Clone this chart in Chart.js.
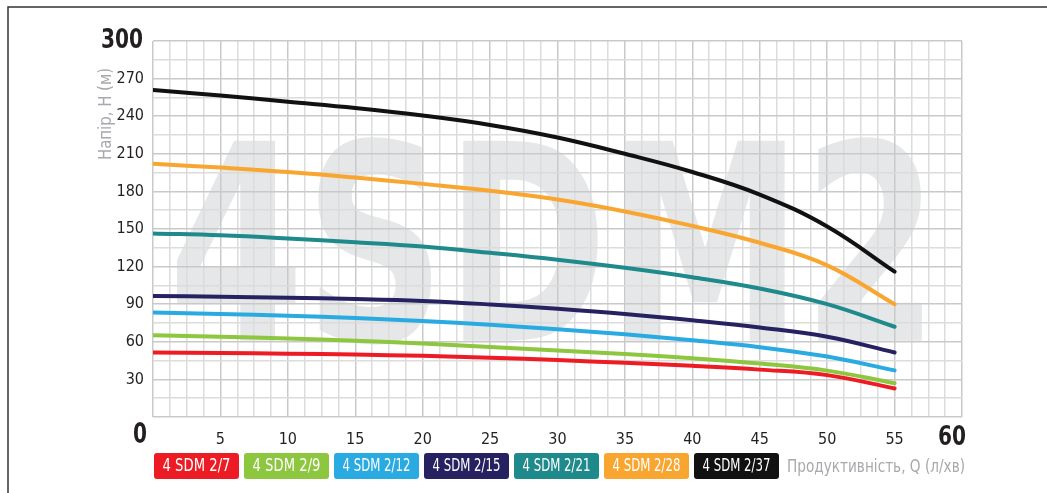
<!DOCTYPE html>
<html>
<head>
<meta charset="utf-8">
<script src="https://cdn.jsdelivr.net/npm/chart.js@4.4.1/dist/chart.umd.min.js"></script>
<style>
html, body { margin: 0; padding: 0; background: #fff; }
canvas { display: block; }
</style>
</head>
<body>
<canvas id="pumpChart" width="1047" height="493"></canvas>
<script>
// Flow Q (l/min) and head H (m)
const flow = [0, 5, 10, 15, 20, 25, 30, 35, 40, 45, 50, 55];

const head_2_7  = [51.4, 51, 50.5, 49.8, 48.8, 47.3, 45.4, 43.2, 40.8, 37.8, 33.4, 22.8];
const head_2_9  = [65.2, 64, 62.6, 60.8, 58.6, 55.8, 53, 50.2, 46.8, 42.6, 37, 27];
const head_2_12 = [83.3, 82.2, 80.8, 79, 76.6, 73.6, 70, 66, 61.2, 55.7, 48.2, 37.2];
const head_2_15 = [96.5, 96, 95.2, 94.2, 92.6, 89.8, 86.3, 82.2, 77.2, 71.4, 64, 51.5];
const head_2_21 = [146.5, 145, 142.5, 139.5, 136, 131, 125.5, 119, 111.5, 102.5, 90, 72];
const head_2_28 = [202, 199, 195.5, 191, 186, 180.5, 173.5, 164, 152.5, 139, 121, 90];
const head_2_37 = [261, 256.5, 251.5, 246.5, 240.5, 233, 223, 210, 195.5, 177.5, 152, 116];

const models = ["4 SDM 2/7", "4 SDM 2/9", "4 SDM 2/12", "4 SDM 2/15", "4 SDM 2/21", "4 SDM 2/28", "4 SDM 2/37"];
const colors = ["#ed1c24", "#8dc63f", "#29abe2", "#262262", "#1f8a8c", "#f9a630", "#111111"];
const heads = [head_2_7, head_2_9, head_2_12, head_2_15, head_2_21, head_2_28, head_2_37];

const xTickLabels = [5, 10, 15, 20, 25, 30, 35, 40, 45, 50, 55];
const yTickLabels = [30, 60, 90, 120, 150, 180, 210, 240, 270];

const FONT = '"DejaVu Sans Condensed", "Liberation Sans Narrow", "Roboto", sans-serif';
const TEXT = "#231f20";
const GREY_TEXT = "#a7a9ac";

const datasets = models.map((name, i) => ({
    label: name,
    data: flow.map((q, j) => ({ x: q, y: heads[i][j] })),
    borderColor: colors[i],
    backgroundColor: colors[i],
    borderWidth: 4,
    borderCapStyle: "round",
    pointRadius: 0,
    tension: 0.4,
    fill: false
}));

function gridColor(ctx, majorStep) {
    const v = Math.round(ctx.tick.value * 100);
    return v % (majorStep * 100) === 0 ? "#c9c9c9" : "#dcdcdc";
}

// draws text squeezed horizontally so it fits a given width (the original uses a condensed face)
function fitText(c, text, x, y, font, width, align) {
    c.save();
    c.font = font;
    c.textBaseline = "middle";
    c.textAlign = "left";
    const w = c.measureText(text).width;
    const k = Math.min(1, width / w);
    let x0 = x;
    if (align === "center") x0 = x - (w * k) / 2;
    if (align === "right") x0 = x - w * k;
    c.translate(x0, y);
    c.scale(k, 1);
    c.fillText(text, 0, 0);
    c.restore();
}

// white page, frame lines and the big "4SDM2" watermark under the grid
const backdrop = {
    id: "backdrop",
    beforeDraw(chart) {
        const c = chart.ctx;
        const a = chart.chartArea;
        c.save();
        c.fillStyle = "#fff";
        c.fillRect(0, 0, chart.width, chart.height);

        c.strokeStyle = "#333";
        c.lineWidth = 1.5;
        c.beginPath();
        c.moveTo(8, chart.height);
        c.lineTo(8, 7);
        c.lineTo(chart.width, 7);
        c.stroke();

        const box = { left: a.left + 22, right: a.right - 37, top: a.top + 94, bottom: a.top + 304 };
        c.font = "bold 300px " + FONT;
        c.textBaseline = "alphabetic";
        const m = c.measureText("4SDM2");
        const w = m.actualBoundingBoxLeft + m.actualBoundingBoxRight;
        const h = m.actualBoundingBoxAscent + m.actualBoundingBoxDescent;
        c.translate(box.left, box.top);
        c.scale((box.right - box.left) / w, (box.bottom - box.top) / h);
        c.fillStyle = "#e6e7e8";
        c.fillText("4SDM2", m.actualBoundingBoxLeft, m.actualBoundingBoxAscent);
        c.restore();
    }
};

// coloured legend chips, axis titles and the big 0 / 60 / 300 labels
const decorations = {
    id: "decorations",
    afterDraw(chart) {
        const c = chart.ctx;
        const xs = chart.scales.x;
        const ys = chart.scales.y;
        c.save();

        let left = xs.left + 1;
        const top = 453, bw = 85, bh = 26, gap = 5;
        chart.data.datasets.forEach(ds => {
            c.fillStyle = ds.borderColor;
            c.beginPath();
            c.roundRect(left, top, bw, bh, 3);
            c.fill();
            c.fillStyle = "#fff";
            fitText(c, ds.label, left + bw / 2, top + bh / 2 + 1, "17px " + FONT, 68, "center");
            left += bw + gap;
        });

        c.fillStyle = GREY_TEXT;
        fitText(c, "Продуктивність, Q (л/хв)", left + 3, top + bh / 2 + 1, "18px " + FONT, 178, "left");

        c.save();
        c.translate(106, 114);
        c.rotate(-Math.PI / 2);
        fitText(c, "Напір, H (м)", 0, 0, "18px " + FONT, 92, "center");
        c.restore();

        c.fillStyle = TEXT;
        const y0 = ys.getPixelForValue(0);
        fitText(c, "0", xs.getPixelForValue(0) - 13, y0 + 18, "bold 29px " + FONT, 14, "center");
        fitText(c, "60", xs.getPixelForValue(60) - 10, y0 + 21, "bold 26px " + FONT, 28, "center");
        fitText(c, "300", ys.left + ys.width - 10, ys.getPixelForValue(300) + 0, "bold 27px " + FONT, 42, "right");
        c.restore();
    }
};

new Chart(document.getElementById("pumpChart").getContext("2d"), {
    type: "line",
    data: { datasets: datasets },
    plugins: [backdrop, decorations],
    options: {
        responsive: false,
        animation: false,
        devicePixelRatio: 1,
        layout: { padding: { left: 0, right: 85, top: 41, bottom: 0 } },
        plugins: {
            legend: { display: false },
            tooltip: { enabled: false }
        },
        scales: {
            x: {
                type: "linear",
                min: 0,
                max: 60,
                afterFit: s => { s.height = 76; },
                border: { display: false },
                grid: { color: ctx => gridColor(ctx, 5), lineWidth: 1.5, drawTicks: false },
                ticks: {
                    stepSize: 1.25,
                    autoSkip: false,
                    maxRotation: 0,
                    padding: 13,
                    color: TEXT,
                    font: { family: FONT, size: 16 },
                    callback: v => {
                        const r = Math.round(v * 100) / 100;
                        return xTickLabels.includes(r) ? String(r) : "";
                    }
                }
            },
            y: {
                min: 0,
                max: 300,
                afterFit: s => { s.width = 153; },
                border: { display: false },
                grid: { color: ctx => gridColor(ctx, 30), lineWidth: 1.5, drawTicks: false },
                ticks: {
                    stepSize: 15,
                    autoSkip: false,
                    padding: 9,
                    color: TEXT,
                    font: { family: FONT, size: 16 },
                    callback: v => yTickLabels.includes(v) ? String(v) : ""
                }
            }
        }
    }
});
</script>
</body>
</html>
